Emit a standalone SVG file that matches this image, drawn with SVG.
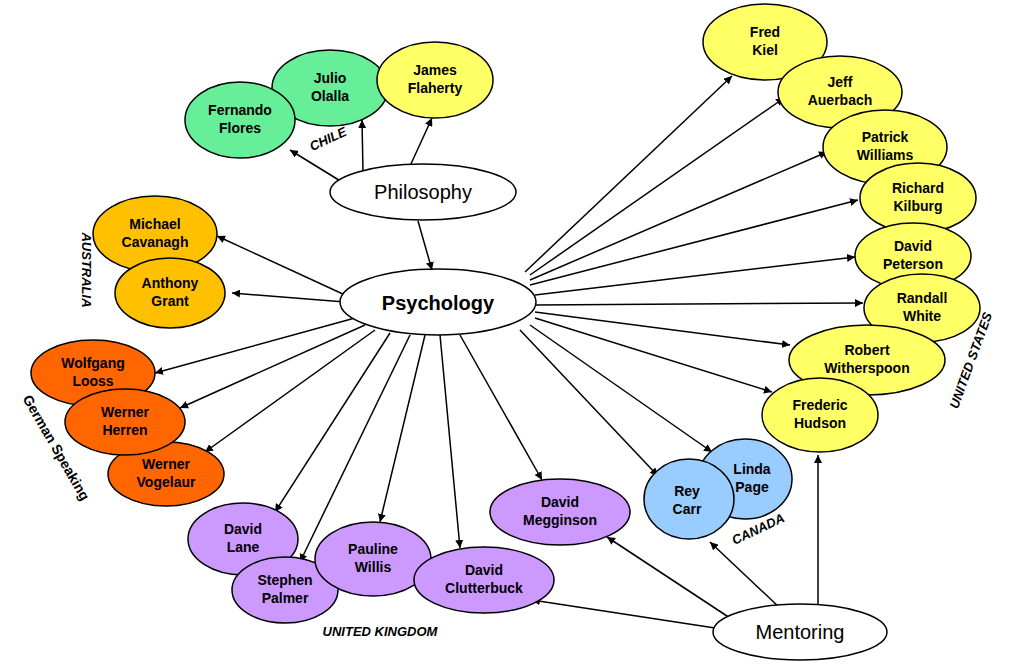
<svg xmlns="http://www.w3.org/2000/svg" width="1024" height="672" viewBox="0 0 1024 672">
<style>
ellipse{stroke:#000;stroke-width:1.5}
.t{font-family:"Liberation Sans",Arial,sans-serif;font-weight:bold;font-size:14px;text-anchor:middle;fill:#000}
.big{font-family:"Liberation Sans",Arial,sans-serif;font-size:20px;text-anchor:middle}
.lab{font-family:"Liberation Sans",Arial,sans-serif;font-weight:bold;font-style:italic;font-size:13px;text-anchor:middle}
.c line{stroke:#000;stroke-width:1.5;marker-end:url(#a)}
.g{fill:#66EE99}.y{fill:#FFFF66}.o{fill:#FFC000}.r{fill:#FF6600}.p{fill:#CC99FF}.b{fill:#99CCFF}.w{fill:#fff}
</style>
<defs><marker id="a" viewBox="0 0 10 10" refX="10" refY="5" markerWidth="8" markerHeight="8" markerUnits="userSpaceOnUse" orient="auto"><path d="M0,0L10,5L0,10z"/></marker></defs>
<rect width="1024" height="672" fill="#fff"/>
<g class="c">
<line x1="342" y1="182" x2="290" y2="150"/><line x1="363" y1="172" x2="362" y2="120"/><line x1="410" y1="166" x2="432" y2="118"/>
<line x1="418" y1="221" x2="432" y2="270"/>
<line x1="345" y1="295" x2="217" y2="236"/><line x1="345" y1="302" x2="232" y2="293"/>
<line x1="355" y1="318" x2="155" y2="373"/><line x1="365" y1="325" x2="180" y2="408"/><line x1="375" y1="330" x2="205" y2="452"/>
<line x1="390" y1="333" x2="275" y2="512"/><line x1="410" y1="335" x2="300" y2="562"/><line x1="425" y1="335" x2="380" y2="522"/>
<line x1="440" y1="335" x2="460" y2="548"/><line x1="460" y1="335" x2="542" y2="480"/>
<line x1="520" y1="330" x2="658" y2="476"/><line x1="530" y1="325" x2="712" y2="452"/>
<line x1="535" y1="318" x2="772" y2="392"/><line x1="535" y1="312" x2="790" y2="345"/><line x1="535" y1="305" x2="863" y2="303"/>
<line x1="535" y1="295" x2="855" y2="257"/><line x1="530" y1="285" x2="858" y2="200"/><line x1="530" y1="280" x2="827" y2="152"/>
<line x1="530" y1="275" x2="784" y2="98"/><line x1="525" y1="272" x2="732" y2="76"/>
<line x1="715" y1="628" x2="532" y2="600"/><line x1="730" y1="618" x2="607" y2="537"/><line x1="780" y1="608" x2="710" y2="542"/><line x1="818" y1="604" x2="818" y2="455"/>
</g>
<g id="julio"><ellipse class="g" cx="330" cy="88" rx="58" ry="38"/><text class="t" x="330" y="83">Julio</text><text class="t" x="330" y="101">Olalla</text></g>
<g id="fernando"><ellipse class="g" cx="240" cy="120" rx="55" ry="38"/><text class="t" x="240" y="115">Fernando</text><text class="t" x="240" y="133">Flores</text></g>
<g id="james"><ellipse class="y" cx="435" cy="80" rx="58" ry="38"/><text class="t" x="435" y="75">James</text><text class="t" x="435" y="93">Flaherty</text></g>
<g id="philosophy"><ellipse class="w" cx="423" cy="192" rx="93" ry="28"/><text class="big" x="423" y="199">Philosophy</text></g>
<g id="psychology"><ellipse class="w" cx="438" cy="302" rx="98" ry="33"/><text class="big" x="438" y="310" font-weight="bold" font-size="24">Psychology</text></g>
<g id="michael"><ellipse class="o" cx="155" cy="234" rx="62" ry="38"/><text class="t" x="155" y="229">Michael</text><text class="t" x="155" y="247">Cavanagh</text></g>
<g id="anthony"><ellipse class="o" cx="170" cy="293" rx="55" ry="35"/><text class="t" x="170" y="288">Anthony</text><text class="t" x="170" y="306">Grant</text></g>
<g id="wolfgang"><ellipse class="r" cx="93" cy="373" rx="62" ry="33"/><text class="t" x="93" y="368">Wolfgang</text><text class="t" x="93" y="386">Looss</text></g>
<g id="vogelaur"><ellipse class="r" cx="166" cy="474" rx="58" ry="32"/><text class="t" x="166" y="469">Werner</text><text class="t" x="166" y="487">Vogelaur</text></g>
<g id="herren"><ellipse class="r" cx="125" cy="422" rx="60" ry="33"/><text class="t" x="125" y="417">Werner</text><text class="t" x="125" y="435">Herren</text></g>
<g id="lane"><ellipse class="p" cx="243" cy="539" rx="55" ry="36"/><text class="t" x="243" y="534">David</text><text class="t" x="243" y="552">Lane</text></g>
<g id="palmer"><ellipse class="p" cx="285" cy="590" rx="53" ry="33"/><text class="t" x="285" y="585">Stephen</text><text class="t" x="285" y="603">Palmer</text></g>
<g id="megginson"><ellipse class="p" cx="560" cy="512" rx="70" ry="33"/><text class="t" x="560" y="507">David</text><text class="t" x="560" y="525">Megginson</text></g>
<g id="pauline"><ellipse class="p" cx="373" cy="559" rx="58" ry="37"/><text class="t" x="373" y="554">Pauline</text><text class="t" x="373" y="572">Willis</text></g>
<g id="clutterbuck"><ellipse class="p" cx="484" cy="580" rx="70" ry="33"/><text class="t" x="484" y="575">David</text><text class="t" x="484" y="593">Clutterbuck</text></g>
<g id="linda"><ellipse class="b" cx="745" cy="479" rx="47" ry="40"/><text class="t" x="752" y="474">Linda</text><text class="t" x="752" y="492">Page</text></g>
<g id="rey"><ellipse class="b" cx="689" cy="499" rx="45" ry="40"/><text class="t" x="687" y="496">Rey</text><text class="t" x="687" y="514">Carr</text></g>
<g id="mentoring"><ellipse class="w" cx="800" cy="632" rx="87" ry="28"/><text class="big" x="800" y="639">Mentoring</text></g>
<g id="fred"><ellipse class="y" cx="765" cy="42" rx="62" ry="38"/><text class="t" x="765" y="37">Fred</text><text class="t" x="765" y="55">Kiel</text></g>
<g id="jeff"><ellipse class="y" cx="840" cy="92" rx="62" ry="36"/><text class="t" x="840" y="87">Jeff</text><text class="t" x="840" y="105">Auerbach</text></g>
<g id="patrick"><ellipse class="y" cx="885" cy="147" rx="62" ry="37"/><text class="t" x="885" y="142">Patrick</text><text class="t" x="885" y="160">Williams</text></g>
<g id="richard"><ellipse class="y" cx="918" cy="198" rx="58" ry="35"/><text class="t" x="918" y="193">Richard</text><text class="t" x="918" y="211">Kilburg</text></g>
<g id="peterson"><ellipse class="y" cx="913" cy="256" rx="58" ry="33"/><text class="t" x="913" y="251">David</text><text class="t" x="913" y="269">Peterson</text></g>
<g id="randall"><ellipse class="y" cx="922" cy="308" rx="58" ry="34"/><text class="t" x="922" y="303">Randall</text><text class="t" x="922" y="321">White</text></g>
<g id="witherspoon"><ellipse class="y" cx="867" cy="360" rx="78" ry="35"/><text class="t" x="867" y="355">Robert</text><text class="t" x="867" y="373">Witherspoon</text></g>
<g id="hudson"><ellipse class="y" cx="820" cy="415" rx="58" ry="37"/><text class="t" x="820" y="410">Frederic</text><text class="t" x="820" y="428">Hudson</text></g>
<text class="lab" transform="translate(330,143) rotate(-25)">CHILE</text>
<text class="lab" transform="translate(82,270) rotate(90)">AUSTRALIA</text>
<text class="t" font-weight="normal" transform="translate(52,450) rotate(60)" font-size="14">German Speaking</text>
<text class="lab" x="380" y="636">UNITED KINGDOM</text>
<text class="lab" transform="translate(760,533) rotate(-25)">CANADA</text>
<text class="lab" transform="translate(975,362) rotate(-70)">UNITED STATES</text>
</svg>
